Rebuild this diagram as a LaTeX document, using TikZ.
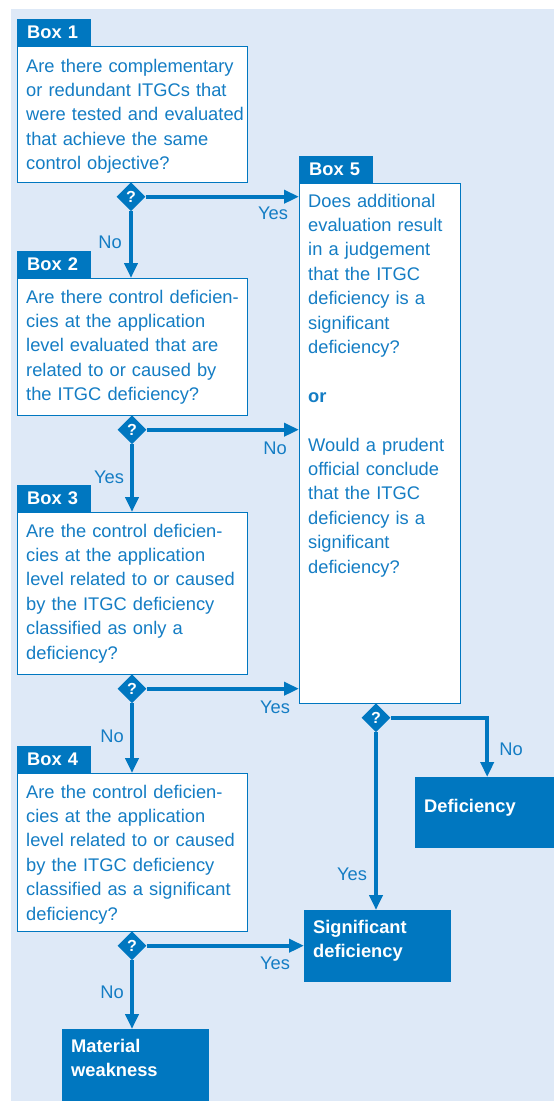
\documentclass[tikz,border=0pt]{standalone}
\usepackage{fontspec}
\setmainfont{Liberation Sans}
\usetikzlibrary{positioning,shapes.geometric,arrows.meta}

\definecolor{boxblue}{RGB}{0,119,192}
\definecolor{textblue}{RGB}{20,125,196}
\definecolor{paleblue}{RGB}{222,233,247}

\def\bodyfont{\fontsize{18.3}{24.4}\selectfont}

\tikzset{
  qbox/.style={draw=boxblue, line width=1pt, fill=white, inner sep=0pt, anchor=north west},
  qtext/.style={text=textblue, font=\bodyfont, align=left, text width=260pt, inner sep=0pt, anchor=base west},
  tab/.style={fill=boxblue, text=white, font=\bodyfont\bfseries, text width=54pt, inner xsep=10pt,
    minimum height=27pt, align=left, anchor=south west},
  qmark/.style={diamond, fill=boxblue, text=white, font=\fontsize{16}{16}\selectfont\bfseries,
    minimum width=29pt, minimum height=29pt, inner sep=0pt, anchor=north},
  endbox/.style={fill=boxblue, inner sep=0pt, anchor=north west},
  endtext/.style={text=white, font=\bodyfont\bfseries, align=left, text width=200pt, inner sep=0pt, anchor=base west},
  ans/.style={text=textblue, font=\bodyfont, inner sep=0pt},
  arr/.style={draw=boxblue, line width=4.2pt, -{Triangle[length=15pt,width=13pt]}}
}

\begin{document}
\begin{tikzpicture}[x=1pt,y=-1pt]
  \useasboundingbox (0,0) rectangle (554,1101);
  \fill[paleblue] (11,9) rectangle (554,1101);

  % Question boxes
  \node[qbox, minimum width=230pt, minimum height=136pt] (box1) at (17,46) {};
  \node[qbox, minimum width=230pt, minimum height=137pt] (box2) at (17,278) {};
  \node[qbox, minimum width=230pt, minimum height=162pt] (box3) at (17,512) {};
  \node[qbox, minimum width=230pt, minimum height=158pt] (box4) at (17,773) {};
  \node[qbox, minimum width=161pt, minimum height=520pt] (box5) at (299,183) {};

  % Tabs
  \foreach \n in {1,...,5} {
    \node[tab] (tab\n) at (box\n.north west) {Box \n};
  }

  % Texts
  \node[qtext] (text1) at ([shift={(9,26)}]box1.north west)
    {Are there complementary\\or redundant ITGCs that\\were tested and evaluated\\that achieve the same\\control objective?};
  \node[qtext] (text2) at ([shift={(9,25)}]box2.north west)
    {Are there control deficien-\\cies at the application\\level evaluated that are\\related to or caused by\\the ITGC deficiency?};
  \node[qtext] (text3) at ([shift={(9,25)}]box3.north west)
    {Are the control deficien-\\cies at the application\\level related to or caused\\by the ITGC deficiency\\classified as only a\\deficiency?};
  \node[qtext] (text4) at ([shift={(9,25)}]box4.north west)
    {Are the control deficien-\\cies at the application\\level related to or caused\\by the ITGC deficiency\\classified as a significant\\deficiency?};
  \node[qtext] (text5) at ([shift={(9,24)}]box5.north west)
    {Does additional\\evaluation result\\in a judgement\\that the ITGC\\deficiency is a\\significant\\deficiency?\\[24.4pt]
     \textbf{or}\\[24.4pt]
     Would a prudent\\official conclude\\that the ITGC\\deficiency is a\\significant\\deficiency?};

  % Decisions
  \node[qmark] (q1) at (131,182) {?};
  \node[qmark] (q2) at (132,415) {?};
  \node[qmark] (q3) at (132,674) {?};
  \node[qmark] (q4) at (132,931) {?};
  \node[qmark] (q5) at (376,703) {?};

  % Outcomes
  \node[endbox, minimum width=139pt, minimum height=71pt] (deficiency) at (415,777) {};
  \node[endbox, minimum width=147pt, minimum height=72pt] (signif) at (304,910) {};
  \node[endbox, minimum width=147pt, minimum height=72pt] (material) at (62,1029) {};
  \node[endtext] (deftext) at ([shift={(9,35)}]deficiency.north west) {Deficiency};
  \node[endtext] (sigtext) at ([shift={(9,23)}]signif.north west) {Significant\\deficiency};
  \node[endtext] (mattext) at ([shift={(9,23)}]material.north west) {Material\\weakness};

  % Arrows
  \draw[arr] (q1.east) -- (q1.east -| box5.west);
  \draw[arr] (q1.south) -- (q1.south |- box2.north);
  \draw[arr] (q2.east) -- (q2.east -| box5.west);
  \draw[arr] (q2.south) -- (q2.south |- box3.north);
  \draw[arr] (q3.east) -- (q3.east -| box5.west);
  \draw[arr] (q3.south) -- (q3.south |- box4.north);
  \draw[arr] (q4.east) -- (q4.east -| signif.west);
  \draw[arr] (q4.south) -- (q4.south |- material.north);
  \draw[arr] (q5.east) -| ([xshift=2.5pt]deficiency.north);
  \draw[arr] (q5.south) -- (q5.south |- signif.north);

  % Yes / No
  \foreach \x/\y/\t [count=\i] in {273/213/Yes, 110/242/No, 275/448/No, 109/477/Yes,
      275/707/Yes, 112/736/No, 275/963/Yes, 112/992/No, 511/749/No, 352/874/Yes} {
    \node[ans] (ans\i) at (\x,\y) {\t};
  }

\end{tikzpicture}
\end{document}
